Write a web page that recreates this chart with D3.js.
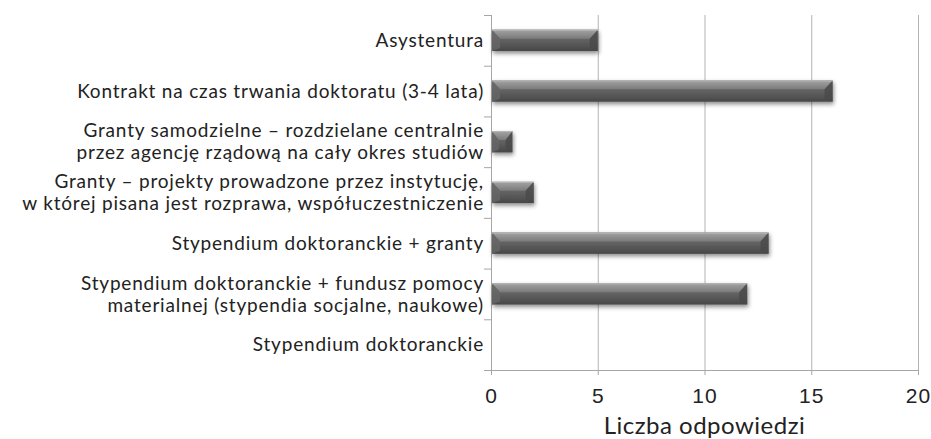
<!DOCTYPE html>
<html>
<head>
<meta charset="utf-8">
<style>
  body { margin: 0; background: #fff; }
  svg { display: block; font-family: Lato, "Open Sans", sans-serif; }
  .cat { font-size: 19px; fill: #222; letter-spacing: 0.8px; }
  .xaxis text { font-size: 21px; fill: #222; letter-spacing: 1px; }
  .xaxis .domain, .xaxis line { stroke: #a6a6a6; }
  .grid line { stroke: #b4b4b4; }
</style>
</head>
<body>
<svg id="chart" width="931" height="439"></svg>
<script src="https://cdn.jsdelivr.net/npm/d3@7"></script>
<script>
var categories = [
  "Asystentura",
  "Kontrakt na czas trwania doktoratu (3-4 lata)",
  "Granty samodzielne \u2013 rozdzielane centralnie\nprzez agencję rządową na cały okres studiów",
  "Granty \u2013 projekty prowadzone przez instytucję,\nw której pisana jest rozprawa, współuczestniczenie",
  "Stypendium doktoranckie + granty",
  "Stypendium doktoranckie + fundusz pomocy\nmaterialnej (stypendia socjalne, naukowe)",
  "Stypendium doktoranckie"
];
var values = [5, 16, 1, 2, 13, 12, 0];
var xTicks = [0, 5, 10, 15, 20];
var xTitle = "Liczba odpowiedzi";

var svg = d3.select("#chart");
var plotL = 491, plotR = 918, plotT = 15, plotB = 370;

var x = d3.scaleLinear().domain([0, 20]).range([plotL, plotR]);
var y = d3.scaleBand().domain(categories).range([plotT, plotB]).padding(0);
var bw = y.bandwidth();
var barH = bw * 0.42;

var defs = svg.append("defs");
var g1 = defs.append("linearGradient").attr("id", "body").attr("x1", 0).attr("y1", 0).attr("x2", 0).attr("y2", 1);
g1.append("stop").attr("offset", "0%").attr("stop-color", "#7b7b7b");
g1.append("stop").attr("offset", "100%").attr("stop-color", "#474747");
var g2 = defs.append("linearGradient").attr("id", "topf").attr("x1", 0).attr("y1", 0).attr("x2", 0).attr("y2", 1);
g2.append("stop").attr("offset", "0%").attr("stop-color", "#a4a4a4");
g2.append("stop").attr("offset", "100%").attr("stop-color", "#7a7a7a");
var f = defs.append("filter").attr("id", "shadow").attr("x", "-10%").attr("y", "-30%").attr("width", "130%").attr("height", "190%");
f.append("feDropShadow").attr("dx", 1).attr("dy", 2.5).attr("stdDeviation", 2).attr("flood-color", "#000").attr("flood-opacity", 0.45);

// grid lines
svg.append("g").attr("class", "grid")
  .selectAll("line").data(xTicks.slice(1)).join("line")
  .attr("x1", d => x(d) + 0.5).attr("x2", d => x(d) + 0.5)
  .attr("y1", plotT).attr("y2", plotB);

// x axis
var xa = svg.append("g").attr("class", "xaxis")
  .attr("transform", "translate(0," + plotB + ")")
  .call(d3.axisBottom(x).tickValues(xTicks).tickSize(5).tickSizeOuter(0).tickPadding(13));
xa.select(".domain").attr("d", "M" + (plotL - 7) + ",0.5H" + plotR);
xa.selectAll("text").attr("font-family", null);

// y axis line and ticks at band boundaries
var yAx = svg.append("g").attr("class", "yaxis");
yAx.append("line").attr("x1", plotL + 0.5).attr("x2", plotL + 0.5).attr("y1", plotT).attr("y2", plotB + 5).attr("stroke", "#a6a6a6");
yAx.selectAll(".yt").data(d3.range(categories.length + 1)).join("line")
  .attr("class", "yt")
  .attr("x1", plotL - 7).attr("x2", plotL)
  .attr("y1", i => plotT + i * bw + 0.5).attr("y2", i => plotT + i * bw + 0.5)
  .attr("stroke", "#a6a6a6");

// category labels
svg.append("g").selectAll("text").data(categories).join("text")
  .attr("class", "cat")
  .attr("text-anchor", "end")
  .each(function(d) {
    var lines = d.split("\n");
    var cy = y(d) + bw / 2;
    var lh = 22;
    var sel = d3.select(this);
    lines.forEach(function(l, i) {
      sel.append("tspan")
        .attr("x", plotL - 7)
        .attr("y", cy + (i - (lines.length - 1) / 2) * lh)
        .attr("dy", "0.35em")
        .text(l);
    });
  });

// bars
var bars = svg.append("g").selectAll("g").data(categories.map((c, i) => ({c: c, v: values[i]})).filter(d => d.v > 0)).join("g")
  .attr("filter", "url(#shadow)");
bars.each(function(d) {
  var g = d3.select(this);
  var x0 = x(0) + 1, x1 = x(d.v);
  var y0 = y(d.c) + (bw - barH) / 2, y1 = y0 + barH;
  var b = Math.min(8, (x1 - x0) / 3), t = barH * 0.42;
  g.append("rect").attr("x", x0).attr("y", y0).attr("width", x1 - x0).attr("height", barH).attr("fill", "url(#body)");
  g.append("polygon").attr("points", [[x0, y0], [x1, y0], [x1 - b, y0 + t], [x0 + b, y0 + t]].join(" ")).attr("fill", "url(#topf)");
  g.append("polygon").attr("points", [[x0, y0], [x0 + b, y0 + t], [x0 + b, y1 - 3], [x0, y1]].join(" ")).attr("fill", "#666").attr("opacity", 0.8);
  g.append("polygon").attr("points", [[x1, y0], [x1 - b, y0 + t], [x1 - b, y1 - 3], [x1, y1]].join(" ")).attr("fill", "#4a4a4a").attr("opacity", 0.8);
  g.append("line").attr("x1", x0).attr("x2", x1).attr("y1", y0 + 0.5).attr("y2", y0 + 0.5).attr("stroke", "#b8b8b8");
});

// axis title
svg.append("text")
  .attr("x", (plotL + plotR) / 2).attr("y", 434)
  .attr("text-anchor", "middle")
  .attr("font-size", 24).attr("fill", "#222")
  .attr("letter-spacing", "0.5px")
  .text(xTitle);
</script>
</body>
</html>
